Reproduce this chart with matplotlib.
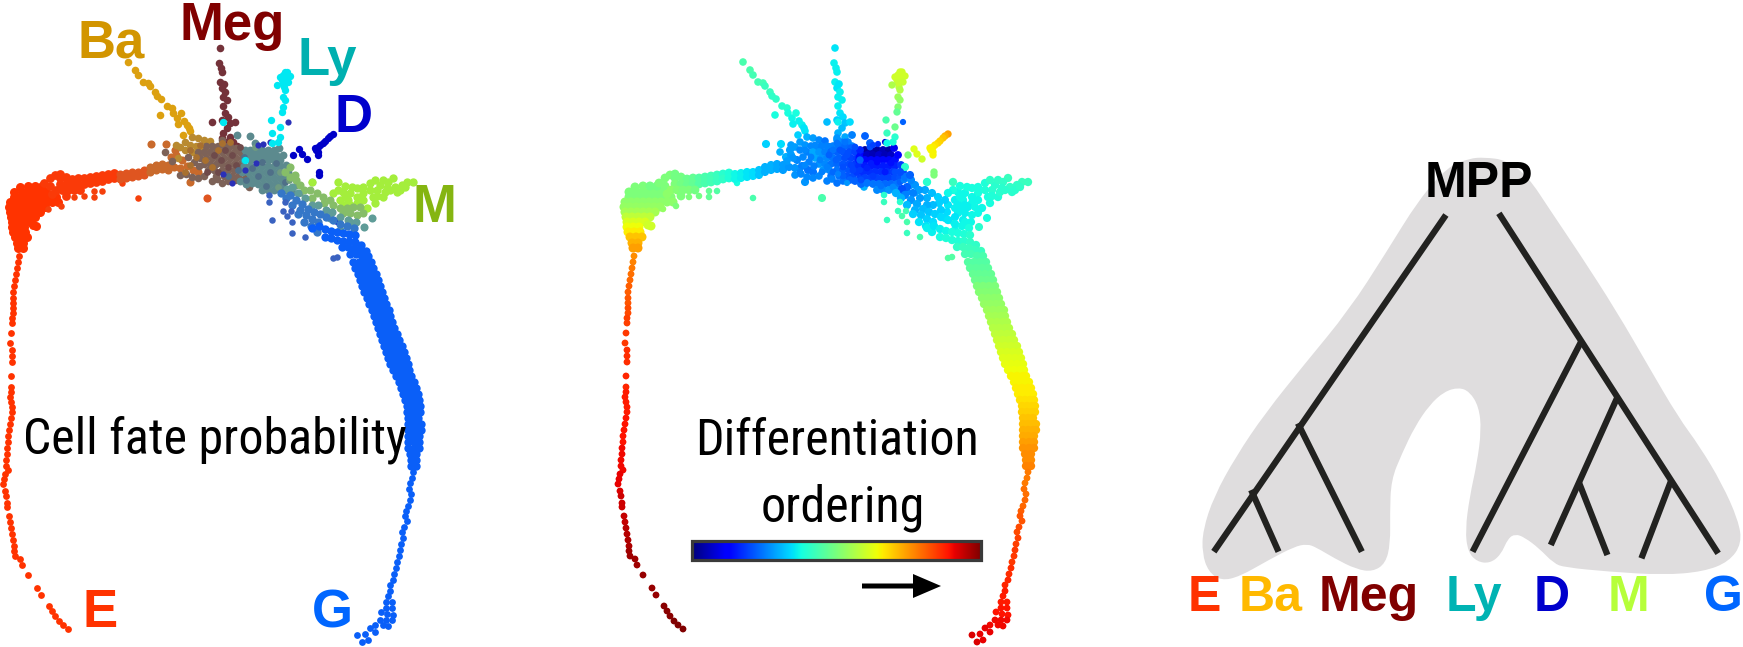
import numpy as np
import matplotlib
matplotlib.use('Agg')
import matplotlib.pyplot as plt
from matplotlib.path import Path
from matplotlib.patches import PathPatch, Rectangle

plt.rcParams['font.family'] = ['Liberation Sans', 'DejaVu Sans']

# cells: (x, y, differentiation order), same embedding in both panels
e_tail = [(19,256,.76),(18,262,.77),(17,268,.78),(16,274,.79),(15,280,.8),(14,286,.81),(13,292,.81),(13,298,.82),
          (13,303,.82),(13,308,.83),(13,313,.83),(12,318,.84),(12,323,.84),(11,333,.85),(10,343,.85),(12,350,.86),
          (12,356,.86),(12,362,.86),(11,376,.87),(11,387,.87),(11,392,.88),(10,397,.88),(11,402,.88),(12,407,.88),
          (12,412,.88),(11,418,.89),(10,424,.89),(9,430,.89),(8,436,.89),(8,442,.89),(7,448,.9),(7,454,.9),
          (6,460,.9),(6,466,.9),(8,470,.9),(5,474,.91),(4,479,.91),(3,484,.91),(5,491,.92),(6,496,.93),
          (7,503,.93),(7,507,.93),(9,516,.94),(10,522,.94),(11,528,.95),(12,534,.95),(13,540,.96),(14,546,.96),
          (14,551,.97),(15,556,.97),(20,559,.97),(22,565,.97),(28,575,.98),(37,588,.98),(41,595,.98),(49,606,.99),
          (52,611,.99),(55,616,.99),(59,621,1.),(63,625,1.),(68,629,1.)]
e_blob = [(22,192,.5),(28,192,.5),(34,192,.5),(40,192,.5),(46,192,.5),(14,197,.5),(20,197,.5),(26,197,.5),
          (32,197,.5),(38,197,.5),(44,197,.5),(50,197,.5),(56,197,.51),(10,202,.52),(16,202,.52),(22,202,.52),
          (28,202,.52),(34,202,.52),(40,202,.52),(46,202,.52),(52,202,.52),(58,202,.52),(9,207,.53),(15,207,.53),
          (21,207,.53),(27,207,.53),(33,207,.53),(39,207,.53),(45,207,.53),(10,212,.55),(16,212,.55),(22,212,.55),
          (28,212,.55),(34,212,.55),(40,212,.55),(11,217,.58),(17,217,.58),(23,217,.58),(29,217,.58),(35,217,.58),
          (12,222,.61),(18,222,.61),(24,222,.61),(30,222,.61),(12,227,.64),(18,227,.64),(24,227,.64),(13,232,.66),
          (19,232,.66),(25,232,.66),(15,237,.7),(21,237,.7),(27,237,.7),(17,243,.72),(23,243,.72),(18,248,.74),
          (23,248,.74),(33,225,.6),(36,226,.6),(20,187,.5),(28,186,.5),(35,186,.49),(42,186,.49),(14,192,.5)]
e_strays = [(48,209,.53),(61,206,.5),(74,197,.5),(84,196,.49),(94,191,.47),(94,197,.47),(102,191,.45),(122,183,.38),(138,198,.44)]
e_arm = [(50,178,.5),(55,175,.5),(60,174,.49),(60,178,.49),(66,177,.49),(72,179,.48),(78,178,.47),(84,178,.45),
         (90,177,.44),(96,176,.43),(102,175,.42),(108,174,.4),(114,173,.39),(60,184,.5),(66,184,.49),(72,185,.48),
         (78,184,.47),(84,184,.45),(90,183,.44),(96,182,.43),(102,181,.42),(108,179,.41),(114,178,.39),(44,183,.5),
         (50,186,.5),(56,190,.52),(62,190,.51),(68,190,.5),(74,190,.5),(80,190,.49),(52,194,.52),(66,196,.5)]
e_mid = [(120,174,.37),(126,173,.36),(132,172,.35),(138,172,.34),(144,170,.32),(120,179,.37),(126,178,.36),
         (132,177,.35),(138,176,.34),(144,175,.32),(207,198,.44)]
e_hub = [(150,167,.3),(156,165,.3),(162,164,.29),(168,165,.28),(150,172,.3),(156,170,.3),(162,169,.29),(168,170,.28),
         (174,167,.27),(180,168,.27),(171,157,.3),(176,155,.28),(151,144,.33),(166,144,.34),(190,182,.27),(175,150,.28),
         (182,160,.26),(187,166,.25),(193,170,.24),(198,172,.24)]

ba_arm = [(128,62,.44),(135,70,.44),(138,75,.43),(143,82,.43),(148,83,.43),(150,86,.42),(155,92,.42),(157,96,.41),
          (161,99,.41),(167,106,.4),(172,108,.4),(160,115,.38),(173,113,.38),(177,118,.37),(181,113,.38),(178,124,.36),
          (184,121,.36),(187,125,.36),(189,128,.35),(183,135,.33),(190,131,.35)]
ba_hub = [(192,137,.3),(198,138,.28),(204,140,.26),(185,142,.28),(180,147,.28),(190,145,.27),(196,146,.26),(202,148,.26),
          (176,145,.28),(185,150,.26),(192,152,.25),(178,158,.27),(200,153,.23),(210,141,.24),(215,147,.23),(208,152,.22)]
meg_arm = [(220,48,.35),(219,63,.36),(221,68,.36),(222,72,.36),(220,82,.36),(224,84,.35),(222,88,.35),(225,92,.36),
           (223,97,.36),(227,100,.36),(223,106,.36),(225,113,.35),(228,117,.34),(222,120,.33),(230,123,.32),(227,128,.31),
           (223,133,.3),(230,137,.29),(235,122,.34),(212,122,.31),(233,142,.25),(226,142,.25),(222,138,.27),(237,146,.25)]

hub_brown = [(222,140,.27),(228,146,.26),(206,146,.25),(212,146,.25),(218,146,.25),(224,146,.24),(230,146,.23),
             (236,148,.22),(198,152,.29),(204,152,.27),(210,152,.25),(216,152,.23),(222,152,.22),(228,152,.21),
             (234,152,.2),(240,152,.19),(200,158,.29),(206,158,.27),(212,158,.26),(218,158,.24),(224,158,.22),
             (230,158,.2),(236,158,.19),(242,158,.18),(204,164,.27),(210,164,.26),(216,164,.24),(222,164,.23),
             (228,164,.21),(234,164,.2),(240,164,.18),(208,170,.27),(214,170,.26),(222,170,.24),(228,170,.22),
             (234,170,.21),(240,170,.19),(216,176,.24),(224,176,.24),(232,176,.21),(238,176,.2),(249,187,.3),(245,178,.19),
             (180,175,.27),(186,174,.26),(192,177,.26),(198,178,.26),(204,176,.26),(212,181,.25),(217,179,.25),(222,183,.24),
             (228,181,.24),(235,180,.22),(165,152,.3),(172,161,.28),(188,157,.26),(194,162,.25),(199,166,.25)]
hub_teal = [(250,150,.03),(256,150,.04),(262,150,.03),(268,150,.05),(274,150,.03),(246,155,.12),(252,155,.06),(258,155,.05),
            (264,155,.07),(270,155,.05),(276,155,.06),(244,160,.15),(250,160,.13),(256,160,.13),(262,160,.13),(268,160,.13),
            (274,160,.13),(280,160,.14),(244,166,.17),(250,166,.15),(256,166,.15),(262,166,.15),(268,166,.15),(274,166,.15),
            (280,166,.16),(242,172,.18),(248,172,.17),(254,172,.17),(260,172,.17),(266,172,.17),(272,172,.17),(278,172,.18),
            (250,178,.19),(256,178,.19),(262,178,.19),(268,178,.19),(274,178,.19),(280,178,.2),(285,178,.21),(255,143,.22),
            (250,136,.22),(237,135,.25),(258,184,.24),(264,184,.24),(270,184,.23),(276,184,.23),(282,184,.24),(245,150,.16),
            (279,148,.1),(283,155,.12),(286,165,.18),(288,172,.2),(240,181,.22),(246,184,.23),(252,183,.24),(262,190,.26),
            (268,190,.26),(274,190,.27),(280,190,.27),(286,190,.26),(292,192,.26)]
hub_orange = [(190,150,.26),(196,157,.25),(185,172,.26),(200,145,.26),(205,160,.25),(212,167,.25),(218,150,.24),(222,143,.24),
              (190,165,.26),(230,142,.24)]
hub_rust = [(214,155,.22),(221,160,.22),(207,172,.25),(225,150,.21),(232,155,.2),(218,172,.23),(236,165,.19),(228,167,.2),
            (240,147,.2)]
hub_slate = [(244,157,.14),(252,168,.16),(262,162,.13),(270,172,.15),(258,176,.18),(246,180,.2),(276,163,.14),(285,182,.22),
             (266,186,.24),(238,170,.19),(228,176,.22)]
hub_sage = [(255,147,.2),(280,172,.2),(289,180,.25),(295,186,.27),(300,193,.28),(278,187,.26)]
hub_blue = [(263,144,.17),(258,145,.19),(232,183,.27),(223,174,.25),(256,163,.15),(245,170,.18),(288,122,.22),(270,142,.08)]

ly_arm = [(285,72,.6),(290,76,.6),(280,77,.6),(286,78,.6),(283,75,.6),(287,72,.6),(282,80,.6),(288,82,.59),(284,87,.58),
          (283,83,.59),(277,85,.56),(285,90,.57),(283,97,.54),(285,100,.53),(283,107,.51),(282,112,.47),(271,120,.44),
          (280,127,.48),(272,133,.42),(280,137,.4),(278,142,.39),(272,143,.37),(223,122,.36),(245,160,.22)]
d_arm = [(333,134,.74),(330,136,.72),(328,138,.7),(325,141,.69),(323,143,.68),(320,145,.67),(318,147,.66),(315,148,.65),
         (316,150,.65),(318,152,.65),(318,155,.65),(319,172,.5),(319,175,.5),(307,159,.6),(302,154,.62),(299,149,.62),
         (293,155,.5),(312,182,.45),(337,221,.42)]
m_bright = [(413,182,.42),(407,182,.42),(402,185,.41),(393,178,.42),(395,187,.41),(388,182,.41),(387,188,.4),(380,185,.4),
            (377,190,.4),(370,183,.39),(370,190,.39),(363,187,.38),(363,193,.38),(357,188,.38),(357,197,.37),(350,193,.37),
            (348,200,.37),(343,192,.37),(340,200,.36),(338,190,.38),(333,193,.37),(338,182,.42),(397,192,.4),(383,197,.39),
            (373,197,.38),(363,200,.37),(357,203,.37),(367,208,.37),(400,190,.4),(377,196,.39),(312,182,.4),(345,186,.38),
            (352,187,.38),(375,180,.41),(383,180,.41),(390,190,.4),(405,187,.41),(350,205,.36),(343,205,.36),(375,203,.38),
            (345,197,.37),(385,192,.4)]
m_mid = [(353,207,.36),(347,208,.36),(340,208,.36),(333,205,.35),(360,207,.37),(350,213,.36),(343,213,.36),(357,215,.37),
         (363,213,.37),(323,197,.33),(330,200,.33),(317,193,.31),(310,190,.29),(300,185,.27),(290,177,.24),(290,167,.4),
         (296,180,.26),(304,190,.28),(312,198,.3),(324,203,.33),(295,175,.22),(285,172,.2)]
m_teal = [(372,218,.38),(364,227,.4),(356,222,.37),(348,220,.36),(340,217,.35),(332,212,.34),(326,210,.33),(318,205,.31),
          (312,205,.3),(305,198,.28),(298,193,.25),(292,187,.22),(287,189,.2),(330,218,.34),(340,230,.37),(350,222,.37)]
g_arm = [(290,195,.25),(296,200,.27),(302,204,.29),(308,209,.31),(314,212,.32),(320,214,.33),(326,217,.34),(333,220,.35),
         (340,224,.36),(347,226,.37),(354,228,.38),(300,210,.3),(306,215,.32),(312,219,.33),(318,222,.34),(281,193,.3),
         (286,198,.3),(292,205,.31),(298,214,.33),(304,222,.35),(311,226,.35),(317,232,.36)]
g_strays = [(269,195,.4),(269,202,.42),(285,202,.4),(283,211,.42),(291,211,.43),(287,216,.44),(272,220,.42),(292,222,.44),
            (292,233,.42),(305,237,.44),(333,258,.45),(337,257,.45)]
g_band = [(312,228,.36),(319,226,.35),(325,229,.36),(331,231,.37),(337,232,.38),(343,233,.38),(349,234,.39),(355,235,.4),
          (325,237,.38),(331,238,.39),(337,240,.39),(343,241,.39),(349,241,.4),(355,242,.41),(361,245,.41),
          (342,247,.41),(348,247,.42),(354,248,.42),(360,250,.42),(366,251,.42),
          (350,254,.43),(356,254,.43),(362,256,.44),(368,256,.44),(353,262,.45),(359,262,.45),(365,262,.45),(371,262,.45),
          (355,268,.46),(361,268,.46),(367,268,.46),(373,268,.46),(358,274,.47),(364,274,.47),(370,274,.47),(376,274,.47),
          (360,280,.48),(366,280,.48),(372,280,.48),(378,280,.48),(362,286,.5),(368,286,.5),(374,286,.5),(380,286,.5),
          (364,292,.51),(370,292,.51),(376,292,.51),(382,292,.51),(367,298,.52),(373,298,.52),(379,298,.52),(384,298,.52),
          (369,304,.53),(375,304,.53),(381,304,.53),(386,304,.53),(372,310,.54),(378,310,.54),(384,310,.54),(389,310,.54),
          (374,316,.55),(380,316,.55),(386,316,.55),(390,316,.55),(376,322,.56),(382,322,.56),(388,322,.56),(392,322,.56),
          (378,328,.57),(384,328,.57),(390,328,.57),(394,328,.57),(380,334,.58),(386,334,.58),(392,334,.58),(397,334,.58),
          (382,340,.59),(388,340,.59),(394,340,.59),(399,340,.59),(384,346,.6),(390,346,.6),(396,346,.6),(402,346,.6),
          (386,352,.61),(392,352,.61),(398,352,.61),(404,352,.61),(388,358,.62),(394,358,.62),(400,358,.62),(406,358,.62),
          (390,364,.63),(396,364,.63),(402,364,.63),(408,364,.63),(393,370,.64),(399,370,.64),(405,370,.64),(409,370,.64),
          (396,376,.65),(402,376,.65),(408,376,.65),(411,376,.65),(399,382,.65),(405,382,.65),(411,382,.65),(414,382,.65),
          (401,388,.66),(407,388,.66),(413,388,.66),(416,388,.66),(403,394,.66),(409,394,.66),(415,394,.66),(418,394,.66),
          (405,400,.67),(410,400,.67),(415,400,.67),(419,400,.67),(407,406,.68),(412,406,.68),(417,406,.68),(420,406,.68),
          (407,412,.69),(412,412,.69),(417,412,.69),(420,412,.69),(408,418,.7),(413,418,.7),(418,418,.7),(408,424,.71),
          (413,424,.71),(418,424,.71),(421,424,.71),(408,430,.72),(413,430,.72),(418,430,.72),(421,430,.72),(408,436,.73),
          (413,436,.73),(419,436,.73),(408,442,.74),(414,442,.74),(419,442,.74),(408,448,.75),(414,448,.75),(419,448,.75),
          (410,454,.76),(416,454,.76),(411,460,.76),(416,460,.76),(411,466,.77),(416,466,.77)]
g_tail = [(413,472,.78),(412,478,.78),(410,483,.78),(409,489,.79),(411,494,.79),(410,500,.8),(408,506,.8),(406,511,.81),
          (405,516,.82),(407,521,.82),(404,527,.83),(402,532,.83),(403,538,.84),(401,544,.84),(400,550,.85),(399,556,.85),
          (397,562,.85),(396,568,.86),(394,574,.86),(393,580,.87),(390,585,.87),(390,591,.88),(388,596,.88),(386,602,.88),
          (392,602,.88),(386,608,.89),(392,608,.89),(387,614,.89),(393,615,.89),(381,612,.89),(386,620,.9),(392,620,.9),
          (380,620,.9),(375,625,.9),(383,625,.9),(388,626,.9),(370,628,.91),(375,632,.91),(365,634,.91),(368,640,.91),
          (362,642,.92),(357,635,.92)]

blob_x = [860,920,980,1040,1120,1220,1310,1390,1450,1510,1555,1565,1530,1460,1350,1200,1080,1050,1010,970,945,925,905,875,
          840,815,808,820,840,852,845,820,790,750,710,670,635,605,602,603,590,555,510,450,400,375,340,270,190,140,105,88,
          90,120,180,260,370,490,590,680,760,820]
blob_y = [82,90,140,240,370,540,710,860,950,1060,1170,1240,1295,1325,1335,1325,1312,1300,1255,1222,1212,1225,1275,1300,
          1295,1265,1200,1100,1000,900,830,785,772,785,825,890,970,1050,1150,1240,1300,1325,1318,1285,1252,1242,1250,1290,
          1340,1352,1325,1270,1200,1100,980,850,700,540,370,210,110,85]
tree_x0 = [755,350,222,900,1125,1225,1120,1372]
tree_y0 = [255,880,1080,250,635,800,1060,1050]
tree_x1 = [120,525,297,1500,828,1042,1197,1290]
tree_y1 = [1265,1265,1265,1270,1265,1245,1275,1285]

fate_names = ['E', 'Ba', 'Meg', 'Ly', 'D', 'M', 'G']
fate_colors1 = ['#ff3300', '#d29500', '#800000', '#00b0b0', '#0000cc', '#85b511', '#0066ff']
fate_colors3 = ['#ff3300', '#ffb900', '#800000', '#00b3b3', '#0000cc', '#b6ff3a', '#0066ff']
fate_xy1 = [(83,627), (78,58), (180,40), (298,75), (335,132), (413,222), (312,627)]
fate_x3 = [48,188,407,755,995,1197,1460]

fig = plt.figure(figsize=(17.43, 6.47), dpi=100)
# ax1 works in pixels of the figure, ax2 is the same plot moved 615 px to the right
ax1 = fig.add_axes([0, 0, 1, 1])
ax1.set_xlim(0, 1743)
ax1.set_ylim(647, 0)
ax2 = fig.add_axes([0, 0, 1, 1], facecolor='none')
ax2.set_xlim(-615, 1128)
ax2.set_ylim(647, 0)
ax3 = fig.add_axes([1170/1743, 0, 573/1743, 517/647], facecolor='none')
ax3.set_xlim(0, 1568)
ax3.set_ylim(1551, 0)
for ax in [ax1, ax2, ax3]:
    ax.axis('off')


def draw(points, color, size=34):
    arr = np.array(points)
    ax1.scatter(arr[:, 0], arr[:, 1], s=size, c=color, linewidths=0)
    ax2.scatter(arr[:, 0], arr[:, 1], s=size, c=arr[:, 2], cmap='jet', vmin=0, vmax=1, linewidths=0)


draw(e_tail, '#ff3300', 24)
draw(e_blob, '#ff3300', 42)
draw(e_strays, '#f5400c', 22)
draw(e_arm, '#fa3a08', 40)
draw(e_mid, '#df5520')
draw(e_hub, '#c96a2c')
draw(ba_arm, '#dca010', 30)
draw(ba_hub, '#b98a30', 30)
draw(meg_arm, '#74323a', 30)
draw(hub_brown, '#7d6258', 30)
draw(hub_teal, '#5c8a8e', 32)
draw(hub_orange, '#a8702f', 24)
draw(hub_rust, '#6e4a4a', 24)
draw(hub_slate, '#4f6f88', 24)
draw(hub_sage, '#6f9a80', 24)
draw(hub_blue, '#2a30b8', 20)
draw(ly_arm, '#00e8f2', 28)
draw(d_arm, '#0000c8', 28)
draw(m_bright, '#a4ee3c', 36)
draw(m_mid, '#86bd68', 34)
draw(m_teal, '#5f9c98', 34)
draw(g_arm, '#3577c8', 36)
draw(g_strays, '#3a62c0', 22)
draw(g_band, '#0a5ff8', 36)
draw(g_tail, '#0a5ff8', 24)

for name, color, (x, y) in zip(fate_names, fate_colors1, fate_xy1):
    ax1.text(x, y, name, color=color, fontsize=38, fontweight='bold', ha='left', va='baseline')

ax1.text(23, 454, 'Cell fate probability', fontsize=36, family='Roboto Condensed', ha='left', va='baseline')
ax1.text(837, 455, 'Differentiation', fontsize=36, family='Roboto Condensed', ha='center', va='baseline')
ax1.text(843, 522, 'ordering', fontsize=36, family='Roboto Condensed', ha='center', va='baseline')

ax1.imshow(np.linspace(0, 1, 256)[None, :], cmap='jet', extent=[693, 981, 559, 542], aspect='auto')
ax1.add_patch(Rectangle((692.5, 541), 289, 19, fill=False, edgecolor='#3a3a3a', linewidth=2.3))
ax1.set_xlim(0, 1743)
ax1.set_ylim(647, 0)
ax1.arrow(862, 586, 79, 0, width=5, head_width=24, head_length=28, length_includes_head=True,
          color='black', linewidth=0)

# closed quadratic curve through the midpoints of the outline
ctrl = np.column_stack([blob_x, blob_y])
mids = (ctrl + np.roll(ctrl, -1, axis=0)) / 2
verts = [mids[-1]]
codes = [Path.MOVETO]
for c, m in zip(ctrl, mids):
    verts += [c, m]
    codes += [Path.CURVE3, Path.CURVE3]
ax3.add_patch(PathPatch(Path(verts, codes), facecolor='#dfddde', edgecolor='none'))

for x0, y0, x1, y1 in zip(tree_x0, tree_y0, tree_x1, tree_y1):
    ax3.plot([x0, x1], [y0, y1], color='#222220', linewidth=4.5, solid_capstyle='butt')

ax3.text(845, 200, 'MPP', color='black', fontsize=36, fontweight='bold', ha='center', va='baseline')
for name, color, x in zip(fate_names, fate_colors3, fate_x3):
    ax3.text(x, 1443, name, color=color, fontsize=36, fontweight='bold', ha='left', va='baseline')

fig.savefig('out.png', dpi=100)
